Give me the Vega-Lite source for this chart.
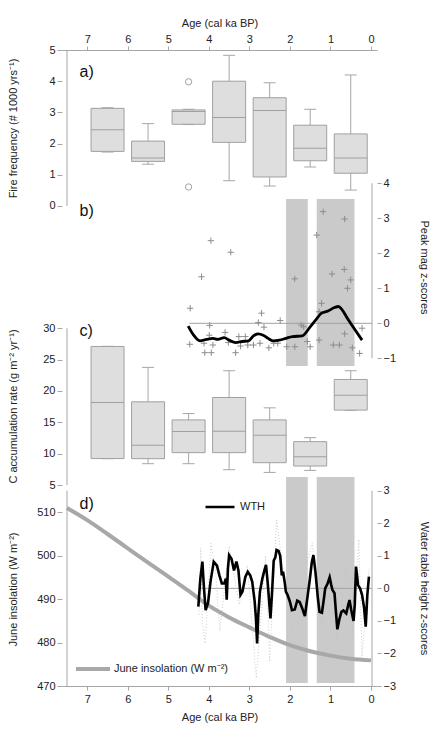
{
  "$schema": "https://vega.github.io/schema/vega-lite/v6.json",
  "width": 315,
  "height": 636,
  "autosize": {"type": "none"},
  "padding": {"left": 62, "top": 50, "right": 57, "bottom": 57},
  "background": "white",
  "config": {
    "font": "Liberation Sans",
    "view": {"stroke": null},
    "axis": {
      "grid": false,
      "domainColor": "#a6a6a6",
      "tickColor": "#a6a6a6",
      "labelColor": "#222222",
      "titleColor": "#222222",
      "labelFontSize": 11,
      "titleFontSize": 11,
      "titleFontWeight": "normal",
      "labelFont": "Liberation Sans",
      "titleFont": "Liberation Sans",
      "labelFlush": false
    },
    "legend": {"labelFontSize": 11, "labelFont": "Liberation Sans", "labelColor": "#222222"},
    "text": {"font": "Liberation Sans"}
  },
  "datasets": {
    "fire": [
      {"age": 6.5, "min": 1.73, "q1": 1.75, "med": 2.44, "q3": 3.13, "max": 3.15},
      {"age": 5.5, "min": 1.34, "q1": 1.43, "med": 1.54, "q3": 2.08, "max": 2.64},
      {"age": 4.5, "min": 2.61, "q1": 2.62, "med": 3.03, "q3": 3.08, "max": 3.1},
      {"age": 3.5, "min": 0.81, "q1": 2.04, "med": 2.84, "q3": 4.0, "max": 4.83},
      {"age": 2.5, "min": 0.64, "q1": 0.93, "med": 3.06, "q3": 3.47, "max": 3.95},
      {"age": 1.5, "min": 1.25, "q1": 1.45, "med": 1.85, "q3": 2.59, "max": 3.1},
      {"age": 0.5, "min": 0.51, "q1": 1.05, "med": 1.54, "q3": 2.31, "max": 4.2}
    ],
    "fireOut": [
      {"age": 4.5, "v": 3.98},
      {"age": 4.5, "v": 0.61}
    ],
    "car": [
      {"age": 6.5, "min": 9.2, "q1": 9.22, "med": 18.16, "q3": 27.1, "max": 27.12},
      {"age": 5.5, "min": 8.4, "q1": 9.2, "med": 11.33, "q3": 18.27, "max": 23.76},
      {"age": 4.5, "min": 8.4, "q1": 10.16, "med": 13.52, "q3": 15.39, "max": 16.4},
      {"age": 3.5, "min": 7.44, "q1": 10.16, "med": 13.57, "q3": 18.96, "max": 23.23},
      {"age": 2.5, "min": 7.01, "q1": 8.56, "med": 12.93, "q3": 15.39, "max": 17.31},
      {"age": 1.5, "min": 7.33, "q1": 8.03, "med": 9.52, "q3": 11.92, "max": 12.56},
      {"age": 0.5, "min": 16.93, "q1": 16.95, "med": 19.33, "q3": 21.84, "max": 23.23}
    ],
    "bands": [
      {"from": 2.095, "to": 1.56},
      {"from": 1.338, "to": 0.407}
    ],
    "peaks": [
      {"age": 4.46, "z": 0.43}, {"age": 4.47, "z": -0.6}, {"age": 4.18, "z": 1.33},
      {"age": 3.95, "z": 2.36}, {"age": 3.46, "z": 2.03}, {"age": 3.98, "z": -0.06},
      {"age": 3.99, "z": -0.34}, {"age": 4.1, "z": -0.84}, {"age": 3.94, "z": -0.84},
      {"age": 4.12, "z": -0.57}, {"age": 3.9, "z": -0.62}, {"age": 3.6, "z": -0.26},
      {"age": 3.52, "z": -0.55}, {"age": 3.34, "z": -0.84}, {"age": 3.26, "z": -0.38},
      {"age": 3.1, "z": -0.38}, {"age": 3.22, "z": -0.65}, {"age": 3.04, "z": -0.62},
      {"age": 2.9, "z": -0.62}, {"age": 2.78, "z": 0.02}, {"age": 2.7, "z": 0.29},
      {"age": 2.64, "z": -0.11}, {"age": 2.74, "z": -0.57}, {"age": 2.52, "z": -0.7},
      {"age": 2.4, "z": -0.57}, {"age": 2.24, "z": 0.08}, {"age": 2.3, "z": -0.57},
      {"age": 2.08, "z": -0.67}, {"age": 1.88, "z": -0.67}, {"age": 1.88, "z": 1.27},
      {"age": 1.72, "z": -0.05}, {"age": 1.66, "z": -0.1}, {"age": 1.57, "z": -0.52},
      {"age": 1.5, "z": -0.67}, {"age": 1.34, "z": 2.52}, {"age": 1.18, "z": 3.19},
      {"age": 1.22, "z": 0.57}, {"age": 1.28, "z": 0.33}, {"age": 1.28, "z": -0.48},
      {"age": 0.96, "z": 1.41}, {"age": 0.93, "z": -0.62}, {"age": 0.78, "z": -0.62},
      {"age": 0.65, "z": 2.98}, {"age": 0.66, "z": 1.54}, {"age": 0.65, "z": -0.3},
      {"age": 0.58, "z": 1.0}, {"age": 0.5, "z": 1.24}, {"age": 0.46, "z": -0.7},
      {"age": 0.28, "z": -0.86}, {"age": 0.22, "z": -0.14}
    ],
    "peakSmooth": [
      {"age": 4.51, "z": -0.08}, {"age": 4.38, "z": -0.33}, {"age": 4.22, "z": -0.5},
      {"age": 4.06, "z": -0.46}, {"age": 3.9, "z": -0.43}, {"age": 3.78, "z": -0.46},
      {"age": 3.62, "z": -0.41}, {"age": 3.5, "z": -0.48}, {"age": 3.34, "z": -0.55},
      {"age": 3.18, "z": -0.52}, {"age": 3.02, "z": -0.5}, {"age": 2.9, "z": -0.36},
      {"age": 2.78, "z": -0.3}, {"age": 2.66, "z": -0.34}, {"age": 2.54, "z": -0.43},
      {"age": 2.42, "z": -0.5}, {"age": 2.26, "z": -0.48}, {"age": 2.1, "z": -0.43},
      {"age": 1.94, "z": -0.38}, {"age": 1.7, "z": -0.36}, {"age": 1.5, "z": -0.1},
      {"age": 1.36, "z": 0.1}, {"age": 1.22, "z": 0.29}, {"age": 1.06, "z": 0.35},
      {"age": 0.9, "z": 0.45}, {"age": 0.8, "z": 0.48}, {"age": 0.72, "z": 0.4},
      {"age": 0.58, "z": 0.14}, {"age": 0.42, "z": -0.14}, {"age": 0.22, "z": -0.48}
    ],
    "insol": [
      {"age": 7.5, "w": 511.0, "series": "June insolation (W m⁻²)"},
      {"age": 7.0, "w": 508.2, "series": "June insolation (W m⁻²)"},
      {"age": 6.5, "w": 505.0, "series": "June insolation (W m⁻²)"},
      {"age": 6.0, "w": 501.7, "series": "June insolation (W m⁻²)"},
      {"age": 5.5, "w": 498.4, "series": "June insolation (W m⁻²)"},
      {"age": 5.0, "w": 495.2, "series": "June insolation (W m⁻²)"},
      {"age": 4.5, "w": 491.9, "series": "June insolation (W m⁻²)"},
      {"age": 4.0, "w": 488.5, "series": "June insolation (W m⁻²)"},
      {"age": 3.5, "w": 485.8, "series": "June insolation (W m⁻²)"},
      {"age": 3.0, "w": 483.5, "series": "June insolation (W m⁻²)"},
      {"age": 2.5, "w": 481.3, "series": "June insolation (W m⁻²)"},
      {"age": 2.0, "w": 479.4, "series": "June insolation (W m⁻²)"},
      {"age": 1.5, "w": 478.0, "series": "June insolation (W m⁻²)"},
      {"age": 1.0, "w": 477.0, "series": "June insolation (W m⁻²)"},
      {"age": 0.5, "w": 476.3, "series": "June insolation (W m⁻²)"},
      {"age": 0.0, "w": 475.9, "series": "June insolation (W m⁻²)"}
    ],
    "wthRaw": [
      {"age": 4.24, "z": -0.8}, {"age": 4.2, "z": 1.23}, {"age": 4.16, "z": -1.07},
      {"age": 4.09, "z": -1.69}, {"age": 3.95, "z": 1.38}, {"age": 3.84, "z": 0.6},
      {"age": 3.73, "z": -1.3}, {"age": 3.5, "z": 1.3}, {"age": 3.25, "z": -0.5},
      {"age": 3.05, "z": 0.7}, {"age": 2.83, "z": -2.76}, {"age": 2.6, "z": 1.0},
      {"age": 2.5, "z": -2.25}, {"age": 2.33, "z": 2.1}, {"age": 2.15, "z": 0.4},
      {"age": 1.95, "z": -1.2}, {"age": 1.7, "z": 0.2}, {"age": 1.45, "z": 1.4},
      {"age": 1.2, "z": -1.3}, {"age": 1.0, "z": 0.8}, {"age": 0.83, "z": -1.7},
      {"age": 0.6, "z": 0.9}, {"age": 0.45, "z": -1.4}, {"age": 0.3, "z": 1.5},
      {"age": 0.22, "z": -2.1}, {"age": 0.05, "z": 0.6}
    ],
    "wth": [
      {"age": 4.26, "z": -0.56, "series": "WTH"}, {"age": 4.21, "z": 0.3, "series": "WTH"},
      {"age": 4.16, "z": 0.82, "series": "WTH"}, {"age": 4.12, "z": 0.0, "series": "WTH"},
      {"age": 4.08, "z": -0.67, "series": "WTH"}, {"age": 4.02, "z": -0.45, "series": "WTH"},
      {"age": 3.96, "z": 0.2, "series": "WTH"}, {"age": 3.88, "z": 0.82, "series": "WTH"},
      {"age": 3.8, "z": 0.7, "series": "WTH"}, {"age": 3.74, "z": 0.4, "series": "WTH"},
      {"age": 3.68, "z": 0.15, "series": "WTH"}, {"age": 3.62, "z": 0.15, "series": "WTH"},
      {"age": 3.58, "z": 0.3, "series": "WTH"}, {"age": 3.56, "z": -0.35, "series": "WTH"},
      {"age": 3.53, "z": 0.6, "series": "WTH"}, {"age": 3.5, "z": 1.02, "series": "WTH"},
      {"age": 3.44, "z": 0.9, "series": "WTH"}, {"age": 3.38, "z": 0.55, "series": "WTH"},
      {"age": 3.32, "z": 0.82, "series": "WTH"}, {"age": 3.27, "z": 0.55, "series": "WTH"},
      {"age": 3.22, "z": -0.2, "series": "WTH"}, {"age": 3.17, "z": -0.1, "series": "WTH"},
      {"age": 3.1, "z": 0.35, "series": "WTH"}, {"age": 3.04, "z": 0.51, "series": "WTH"},
      {"age": 2.98, "z": 0.4, "series": "WTH"}, {"age": 2.93, "z": 0.2, "series": "WTH"},
      {"age": 2.87, "z": -0.4, "series": "WTH"}, {"age": 2.84, "z": -0.9, "series": "WTH"},
      {"age": 2.81, "z": -1.69, "series": "WTH"}, {"age": 2.78, "z": -0.8, "series": "WTH"},
      {"age": 2.74, "z": -0.1, "series": "WTH"}, {"age": 2.68, "z": 0.3, "series": "WTH"},
      {"age": 2.63, "z": 0.55, "series": "WTH"}, {"age": 2.59, "z": 0.72, "series": "WTH"},
      {"age": 2.55, "z": 0.2, "series": "WTH"}, {"age": 2.5, "z": -0.6, "series": "WTH"},
      {"age": 2.48, "z": -0.92, "series": "WTH"}, {"age": 2.44, "z": -0.1, "series": "WTH"},
      {"age": 2.4, "z": 0.85, "series": "WTH"}, {"age": 2.36, "z": 0.95, "series": "WTH"},
      {"age": 2.33, "z": 1.18, "series": "WTH"}, {"age": 2.28, "z": 1.15, "series": "WTH"},
      {"age": 2.24, "z": 1.0, "series": "WTH"}, {"age": 2.2, "z": 0.4, "series": "WTH"},
      {"age": 2.17, "z": 0.51, "series": "WTH"}, {"age": 2.13, "z": 0.2, "series": "WTH"},
      {"age": 2.1, "z": -0.1, "series": "WTH"}, {"age": 2.06, "z": -0.2, "series": "WTH"},
      {"age": 2.0, "z": -0.41, "series": "WTH"}, {"age": 1.95, "z": -0.67, "series": "WTH"},
      {"age": 1.88, "z": -0.65, "series": "WTH"}, {"age": 1.82, "z": -0.38, "series": "WTH"},
      {"age": 1.76, "z": -0.42, "series": "WTH"}, {"age": 1.7, "z": -0.6, "series": "WTH"},
      {"age": 1.63, "z": -0.85, "series": "WTH"}, {"age": 1.56, "z": -0.2, "series": "WTH"},
      {"age": 1.51, "z": 0.27, "series": "WTH"}, {"age": 1.46, "z": 0.8, "series": "WTH"},
      {"age": 1.42, "z": 1.02, "series": "WTH"}, {"age": 1.37, "z": 0.5, "series": "WTH"},
      {"age": 1.31, "z": -0.3, "series": "WTH"}, {"age": 1.27, "z": -0.72, "series": "WTH"},
      {"age": 1.21, "z": -0.75, "series": "WTH"}, {"age": 1.16, "z": -0.3, "series": "WTH"},
      {"age": 1.13, "z": 0.0, "series": "WTH"}, {"age": 1.07, "z": 0.15, "series": "WTH"},
      {"age": 1.02, "z": 0.34, "series": "WTH"}, {"age": 0.98, "z": 0.1, "series": "WTH"},
      {"age": 0.95, "z": -0.05, "series": "WTH"}, {"age": 0.9, "z": -0.15, "series": "WTH"},
      {"age": 0.86, "z": -0.8, "series": "WTH"}, {"age": 0.83, "z": -1.26, "series": "WTH"},
      {"age": 0.78, "z": -0.95, "series": "WTH"}, {"age": 0.73, "z": -0.72, "series": "WTH"},
      {"age": 0.68, "z": -0.68, "series": "WTH"}, {"age": 0.61, "z": -0.77, "series": "WTH"},
      {"age": 0.56, "z": -0.5, "series": "WTH"}, {"age": 0.53, "z": -0.36, "series": "WTH"},
      {"age": 0.49, "z": -0.65, "series": "WTH"}, {"age": 0.43, "z": -1.0, "series": "WTH"},
      {"age": 0.4, "z": -0.5, "series": "WTH"}, {"age": 0.37, "z": 0.67, "series": "WTH"},
      {"age": 0.34, "z": 0.35, "series": "WTH"}, {"age": 0.32, "z": 0.1, "series": "WTH"},
      {"age": 0.27, "z": 0.0, "series": "WTH"}, {"age": 0.22, "z": -0.2, "series": "WTH"},
      {"age": 0.17, "z": -0.6, "series": "WTH"}, {"age": 0.13, "z": -1.18, "series": "WTH"},
      {"age": 0.09, "z": -0.2, "series": "WTH"}, {"age": 0.05, "z": 0.36, "series": "WTH"}
    ]
  },
  "resolve": {
    "scale": {"y": "independent", "color": "independent"},
    "axis": {"x": "independent", "y": "independent"}
  },
  "layer": [
    {
      "data": {"name": "fire"},
      "mark": {"type": "rule", "color": "#a6a6a6", "strokeWidth": 1},
      "encoding": {
        "x": {"field": "age", "type": "quantitative", "scale": {"domain": [7.5, -0.025], "nice": false, "zero": false},
          "axis": {"orient": "top", "values": [0, 1, 2, 3, 4, 5, 6, 7], "format": "d", "title": "Age (cal ka BP)", "tickSize": 4, "labelPadding": 2, "titlePadding": 5}},
        "y": {"field": "min", "type": "quantitative", "scale": {"domain": [-15.385, 5], "nice": false, "zero": false},
          "axis": {"orient": "left", "values": [0, 1, 2, 3, 4, 5], "format": "d", "domain": false, "tickSize": 5, "labelPadding": 2,
            "title": "Fire frequency (# 1000 yrs⁻¹)", "titleAngle": -90, "titleX": -49, "titleY": 78, "titleAlign": "center", "titleBaseline": "middle"}},
        "y2": {"field": "max"}
      }
    },
    {
      "data": {"name": "fire"},
      "mark": {"type": "tick", "orient": "horizontal", "size": 12, "thickness": 1, "color": "#a6a6a6", "opacity": 1},
      "encoding": {
        "x": {"field": "age", "type": "quantitative", "scale": {"domain": [7.5, -0.025], "nice": false, "zero": false}, "axis": null},
        "y": {"field": "min", "type": "quantitative", "scale": {"domain": [-15.385, 5], "nice": false, "zero": false}, "axis": null}
      }
    },
    {
      "data": {"name": "fire"},
      "mark": {"type": "tick", "orient": "horizontal", "size": 12, "thickness": 1, "color": "#a6a6a6", "opacity": 1},
      "encoding": {
        "x": {"field": "age", "type": "quantitative", "scale": {"domain": [7.5, -0.025], "nice": false, "zero": false}, "axis": null},
        "y": {"field": "max", "type": "quantitative", "scale": {"domain": [-15.385, 5], "nice": false, "zero": false}, "axis": null}
      }
    },
    {
      "data": {"name": "fire"},
      "mark": {"type": "bar", "size": 33, "fill": "#dedede", "stroke": "#a0a0a0", "strokeWidth": 1},
      "encoding": {
        "x": {"field": "age", "type": "quantitative", "scale": {"domain": [7.5, -0.025], "nice": false, "zero": false}, "axis": null},
        "y": {"field": "q1", "type": "quantitative", "scale": {"domain": [-15.385, 5], "nice": false, "zero": false}, "axis": null},
        "y2": {"field": "q3"}
      }
    },
    {
      "data": {"name": "fire"},
      "mark": {"type": "tick", "orient": "horizontal", "size": 33, "thickness": 1, "color": "#a0a0a0", "opacity": 1},
      "encoding": {
        "x": {"field": "age", "type": "quantitative", "scale": {"domain": [7.5, -0.025], "nice": false, "zero": false}, "axis": null},
        "y": {"field": "med", "type": "quantitative", "scale": {"domain": [-15.385, 5], "nice": false, "zero": false}, "axis": null}
      }
    },
    {
      "data": {"name": "fireOut"},
      "mark": {"type": "point", "shape": "circle", "size": 40, "filled": false, "stroke": "#a0a0a0", "strokeWidth": 1, "opacity": 1},
      "encoding": {
        "x": {"field": "age", "type": "quantitative", "scale": {"domain": [7.5, -0.025], "nice": false, "zero": false}, "axis": null},
        "y": {"field": "v", "type": "quantitative", "scale": {"domain": [-15.385, 5], "nice": false, "zero": false}, "axis": null}
      }
    },
    {
      "data": {"values": [{}]},
      "mark": {"type": "rule", "color": "#a6a6a6", "strokeWidth": 1},
      "encoding": {
        "x": {"datum": 7.5, "type": "quantitative", "scale": {"domain": [7.5, -0.025], "nice": false, "zero": false}, "axis": null},
        "y": {"datum": 0, "type": "quantitative", "scale": {"domain": [-15.385, 5], "nice": false, "zero": false}, "axis": null},
        "y2": {"datum": 5}
      }
    },
    {
      "data": {"values": [{}]},
      "mark": {"type": "text", "text": "a)", "fontSize": 16, "align": "left", "baseline": "middle", "color": "#111111"},
      "encoding": {
        "x": {"datum": 7.19, "type": "quantitative", "scale": {"domain": [7.5, -0.025], "nice": false, "zero": false}, "axis": null},
        "y": {"datum": 4.28, "type": "quantitative", "scale": {"domain": [-15.385, 5], "nice": false, "zero": false}, "axis": null}
      }
    },
    {
      "data": {"name": "bands"},
      "mark": {"type": "rect", "color": "#cacaca"},
      "encoding": {
        "x": {"field": "from", "type": "quantitative", "scale": {"domain": [7.5, -0.025], "nice": false, "zero": false}, "axis": null},
        "x2": {"field": "to"},
        "y": {"datum": -1.22, "type": "quantitative", "scale": {"domain": [-10.363, 7.809], "nice": false, "zero": false},
          "axis": {"orient": "right", "values": [-1, 0, 1, 2, 3, 4], "format": "d", "domain": false, "tickSize": 4, "labelPadding": 2,
            "title": "Peak mag z-scores", "titleAngle": 90, "titleX": 46, "titleY": 217, "titleAlign": "center", "titleBaseline": "middle"}},
        "y2": {"datum": 3.55}
      }
    },
    {
      "data": {"values": [{}]},
      "mark": {"type": "rule", "color": "#a0a0a0", "strokeWidth": 1},
      "encoding": {
        "x": {"datum": 4.48, "type": "quantitative", "scale": {"domain": [7.5, -0.025], "nice": false, "zero": false}, "axis": null},
        "x2": {"datum": -0.025},
        "y": {"datum": 0, "type": "quantitative", "scale": {"domain": [-10.363, 7.809], "nice": false, "zero": false}, "axis": null}
      }
    },
    {
      "data": {"name": "peaks"},
      "mark": {"type": "point", "shape": "M-1,0H1M0,-1V1", "size": 40, "filled": false, "stroke": "#8c8c8c", "strokeWidth": 1, "opacity": 1},
      "encoding": {
        "x": {"field": "age", "type": "quantitative", "scale": {"domain": [7.5, -0.025], "nice": false, "zero": false}, "axis": null},
        "y": {"field": "z", "type": "quantitative", "scale": {"domain": [-10.363, 7.809], "nice": false, "zero": false}, "axis": null}
      }
    },
    {
      "data": {"name": "peakSmooth"},
      "mark": {"type": "line", "color": "#000000", "strokeWidth": 2.8, "interpolate": "monotone"},
      "encoding": {
        "x": {"field": "age", "type": "quantitative", "scale": {"domain": [7.5, -0.025], "nice": false, "zero": false}, "axis": null},
        "y": {"field": "z", "type": "quantitative", "scale": {"domain": [-10.363, 7.809], "nice": false, "zero": false}, "axis": null}
      }
    },
    {
      "data": {"values": [{}]},
      "mark": {"type": "rule", "color": "#a6a6a6", "strokeWidth": 1},
      "encoding": {
        "x": {"datum": -0.025, "type": "quantitative", "scale": {"domain": [7.5, -0.025], "nice": false, "zero": false}, "axis": null},
        "y": {"datum": -1, "type": "quantitative", "scale": {"domain": [-10.363, 7.809], "nice": false, "zero": false}, "axis": null},
        "y2": {"datum": 4}
      }
    },
    {
      "data": {"values": [{}]},
      "mark": {"type": "text", "text": "b)", "fontSize": 16, "align": "left", "baseline": "middle", "color": "#111111"},
      "encoding": {
        "x": {"datum": 7.19, "type": "quantitative", "scale": {"domain": [7.5, -0.025], "nice": false, "zero": false}, "axis": null},
        "y": {"datum": 3.2, "type": "quantitative", "scale": {"domain": [-10.363, 7.809], "nice": false, "zero": false}, "axis": null}
      }
    },
    {
      "data": {"name": "car"},
      "mark": {"type": "rule", "color": "#a6a6a6", "strokeWidth": 1},
      "encoding": {
        "x": {"field": "age", "type": "quantitative", "scale": {"domain": [7.5, -0.025], "nice": false, "zero": false}, "axis": null},
        "y": {"field": "min", "type": "quantitative", "scale": {"domain": [-27.06, 74.39], "nice": false, "zero": false},
          "axis": {"orient": "left", "values": [5, 10, 15, 20, 25, 30], "format": "d", "domain": false, "tickSize": 5, "labelPadding": 2,
            "title": "C accumulation rate (g m⁻² yr⁻¹)", "titleAngle": -90, "titleX": -49, "titleY": 356, "titleAlign": "center", "titleBaseline": "middle"}},
        "y2": {"field": "max"}
      }
    },
    {
      "data": {"name": "car"},
      "mark": {"type": "tick", "orient": "horizontal", "size": 12, "thickness": 1, "color": "#a6a6a6", "opacity": 1},
      "encoding": {
        "x": {"field": "age", "type": "quantitative", "scale": {"domain": [7.5, -0.025], "nice": false, "zero": false}, "axis": null},
        "y": {"field": "min", "type": "quantitative", "scale": {"domain": [-27.06, 74.39], "nice": false, "zero": false}, "axis": null}
      }
    },
    {
      "data": {"name": "car"},
      "mark": {"type": "tick", "orient": "horizontal", "size": 12, "thickness": 1, "color": "#a6a6a6", "opacity": 1},
      "encoding": {
        "x": {"field": "age", "type": "quantitative", "scale": {"domain": [7.5, -0.025], "nice": false, "zero": false}, "axis": null},
        "y": {"field": "max", "type": "quantitative", "scale": {"domain": [-27.06, 74.39], "nice": false, "zero": false}, "axis": null}
      }
    },
    {
      "data": {"name": "car"},
      "mark": {"type": "bar", "size": 33, "fill": "#dedede", "stroke": "#a0a0a0", "strokeWidth": 1},
      "encoding": {
        "x": {"field": "age", "type": "quantitative", "scale": {"domain": [7.5, -0.025], "nice": false, "zero": false}, "axis": null},
        "y": {"field": "q1", "type": "quantitative", "scale": {"domain": [-27.06, 74.39], "nice": false, "zero": false}, "axis": null},
        "y2": {"field": "q3"}
      }
    },
    {
      "data": {"name": "car"},
      "mark": {"type": "tick", "orient": "horizontal", "size": 33, "thickness": 1, "color": "#a0a0a0", "opacity": 1},
      "encoding": {
        "x": {"field": "age", "type": "quantitative", "scale": {"domain": [7.5, -0.025], "nice": false, "zero": false}, "axis": null},
        "y": {"field": "med", "type": "quantitative", "scale": {"domain": [-27.06, 74.39], "nice": false, "zero": false}, "axis": null}
      }
    },
    {
      "data": {"values": [{}]},
      "mark": {"type": "rule", "color": "#a6a6a6", "strokeWidth": 1},
      "encoding": {
        "x": {"datum": 7.5, "type": "quantitative", "scale": {"domain": [7.5, -0.025], "nice": false, "zero": false}, "axis": null},
        "y": {"datum": 5, "type": "quantitative", "scale": {"domain": [-27.06, 74.39], "nice": false, "zero": false}, "axis": null},
        "y2": {"datum": 30}
      }
    },
    {
      "data": {"values": [{}]},
      "mark": {"type": "text", "text": "c)", "fontSize": 16, "align": "left", "baseline": "middle", "color": "#111111"},
      "encoding": {
        "x": {"datum": 7.19, "type": "quantitative", "scale": {"domain": [7.5, -0.025], "nice": false, "zero": false}, "axis": null},
        "y": {"datum": 29.57, "type": "quantitative", "scale": {"domain": [-27.06, 74.39], "nice": false, "zero": false}, "axis": null}
      }
    },
    {
      "data": {"name": "bands"},
      "mark": {"type": "rect", "color": "#cacaca"},
      "encoding": {
        "x": {"field": "from", "type": "quantitative", "scale": {"domain": [7.5, -0.025], "nice": false, "zero": false},
          "axis": {"orient": "bottom", "values": [0, 1, 2, 3, 4, 5, 6, 7], "format": "d", "title": "Age (cal ka BP)", "tickSize": 4, "labelPadding": 3, "titlePadding": 7}},
        "x2": {"field": "to"},
        "y": {"datum": 470.69, "type": "quantitative", "scale": {"domain": [470, 616.46], "nice": false, "zero": false},
          "axis": {"orient": "left", "values": [470, 480, 490, 500, 510], "format": "d", "domain": false, "tickSize": 5, "labelPadding": 2,
            "title": "June insolation (W m⁻²)", "titleAngle": -90, "titleX": -49, "titleY": 539, "titleAlign": "center", "titleBaseline": "middle"}},
        "y2": {"datum": 518.13}
      }
    },
    {
      "data": {"name": "insol"},
      "mark": {"type": "line", "strokeWidth": 4, "interpolate": "monotone"},
      "encoding": {
        "x": {"field": "age", "type": "quantitative", "scale": {"domain": [7.5, -0.025], "nice": false, "zero": false}, "axis": null},
        "y": {"field": "w", "type": "quantitative", "scale": {"domain": [470, 616.46], "nice": false, "zero": false}, "axis": null},
        "color": {"field": "series", "type": "nominal", "scale": {"range": ["#a8a8a8"]},
          "legend": {"orient": "none", "legendX": 12, "legendY": 600, "title": null, "symbolType": "stroke", "symbolSize": 1156, "symbolStrokeWidth": 4, "labelOffset": 2, "labelFontSize": 11}}
      }
    },
    {
      "data": {"values": [{}]},
      "mark": {"type": "rule", "color": "#a6a6a6", "strokeWidth": 1},
      "encoding": {
        "x": {"datum": 7.5, "type": "quantitative", "scale": {"domain": [7.5, -0.025], "nice": false, "zero": false}, "axis": null},
        "y": {"datum": 470, "type": "quantitative", "scale": {"domain": [470, 616.46], "nice": false, "zero": false}, "axis": null},
        "y2": {"datum": 515}
      }
    },
    {
      "data": {"values": [{}]},
      "mark": {"type": "text", "text": "d)", "fontSize": 16, "align": "left", "baseline": "middle", "color": "#111111"},
      "encoding": {
        "x": {"datum": 7.19, "type": "quantitative", "scale": {"domain": [7.5, -0.025], "nice": false, "zero": false}, "axis": null},
        "y": {"datum": 511.9, "type": "quantitative", "scale": {"domain": [470, 616.46], "nice": false, "zero": false}, "axis": null}
      }
    },
    {
      "data": {"values": [{}]},
      "mark": {"type": "rule", "color": "#a0a0a0", "strokeWidth": 1},
      "encoding": {
        "x": {"datum": 4.22, "type": "quantitative", "scale": {"domain": [7.5, -0.025], "nice": false, "zero": false}, "axis": null},
        "x2": {"datum": -0.025},
        "y": {"datum": 0, "type": "quantitative", "scale": {"domain": [-3, 16.54], "nice": false, "zero": false},
          "axis": {"orient": "right", "values": [-3, -2, -1, 0, 1, 2, 3], "format": "d", "domain": false, "tickSize": 4, "labelPadding": 2,
            "title": "Water table height z-scores", "titleAngle": 90, "titleX": 46, "titleY": 538, "titleAlign": "center", "titleBaseline": "middle"}}
      }
    },
    {
      "data": {"name": "wthRaw"},
      "mark": {"type": "line", "color": "#c2c2c2", "strokeWidth": 0.8, "strokeDash": [1, 2]},
      "encoding": {
        "x": {"field": "age", "type": "quantitative", "scale": {"domain": [7.5, -0.025], "nice": false, "zero": false}, "axis": null},
        "y": {"field": "z", "type": "quantitative", "scale": {"domain": [-3, 16.54], "nice": false, "zero": false}, "axis": null}
      }
    },
    {
      "data": {"name": "wth"},
      "mark": {"type": "line", "strokeWidth": 2.6},
      "encoding": {
        "x": {"field": "age", "type": "quantitative", "scale": {"domain": [7.5, -0.025], "nice": false, "zero": false}, "axis": null},
        "y": {"field": "z", "type": "quantitative", "scale": {"domain": [-3, 16.54], "nice": false, "zero": false}, "axis": null},
        "color": {"field": "series", "type": "nominal", "scale": {"range": ["#000000"]},
          "legend": {"orient": "none", "legendX": 142, "legendY": 441, "title": null, "symbolType": "stroke", "symbolSize": 841, "symbolStrokeWidth": 2.5, "labelOffset": 4, "labelFontSize": 11}}
      }
    },
    {
      "data": {"values": [{}]},
      "mark": {"type": "rule", "color": "#a6a6a6", "strokeWidth": 1},
      "encoding": {
        "x": {"datum": -0.025, "type": "quantitative", "scale": {"domain": [7.5, -0.025], "nice": false, "zero": false}, "axis": null},
        "y": {"datum": -3, "type": "quantitative", "scale": {"domain": [-3, 16.54], "nice": false, "zero": false}, "axis": null},
        "y2": {"datum": 3}
      }
    }
  ]
}
